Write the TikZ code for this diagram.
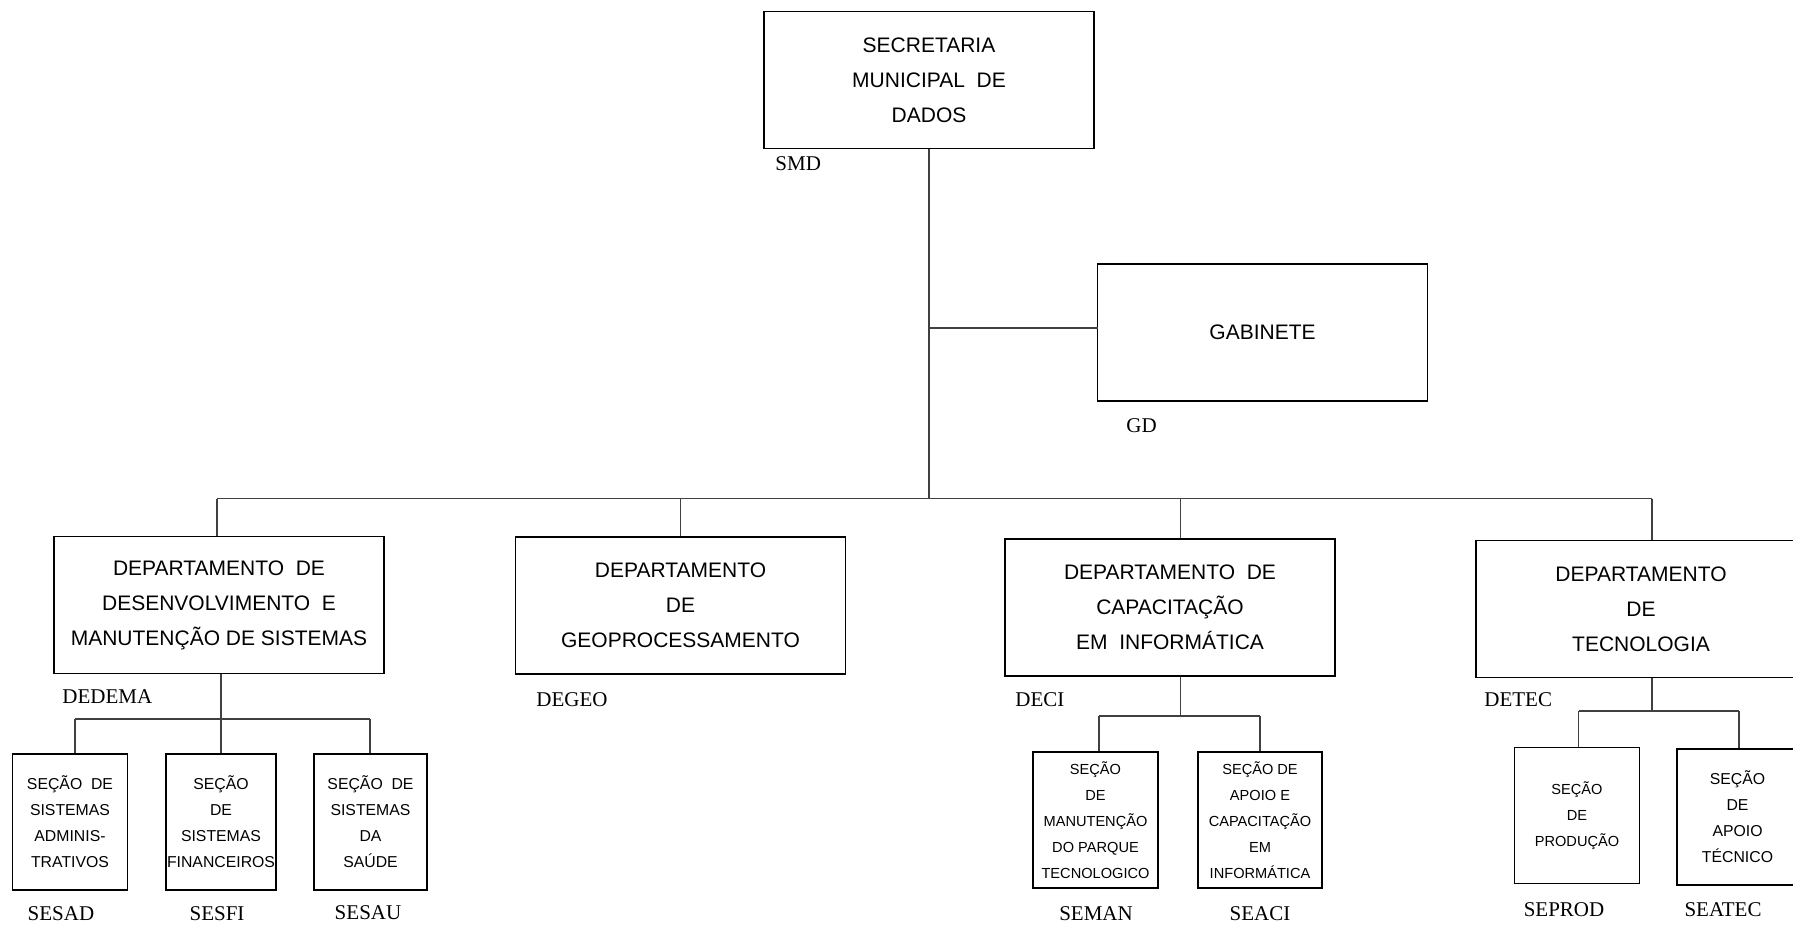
\documentclass[tikz,border=0pt]{standalone}
\usepackage{fontspec}
\setmainfont{Liberation Serif}
\setsansfont{Liberation Sans}
\begin{document}
\begin{tikzpicture}[x=0.5pt, y=-0.5pt,
    unitbox/.style={draw, line width=0.9pt, inner sep=0pt, align=center,
      minimum width=165pt, minimum height=68.5pt,
      font=\sffamily\fontsize{10.5}{17.5}\selectfont},
    secbox/.style={draw, line width=0.9pt, inner sep=0pt, align=center,
      minimum width=#1, minimum height=68pt,
      font=\sffamily\fontsize{7.9}{13}\selectfont},
    secboxn/.style={secbox=#1, font=\sffamily\fontsize{7.3}{13}\selectfont},
    sigla/.style={inner sep=0pt, font=\fontsize{10.5}{12}\selectfont},
    link/.style={line width=0.8pt, black!75}]
            \useasboundingbox (0,0) rectangle (1793,925);
            \clip (0,0) rectangle (1793,925);
            % secretaria e gabinete
            \node[unitbox] (smd) at (929,80) {SECRETARIA\\MUNICIPAL~ DE\\DADOS};
            \node[unitbox] (gd) at (1262.5,332.5) {GABINETE};
            % departamentos
            \node[unitbox] (dedema) at (219,605) {DEPARTAMENTO~ DE\\DESENVOLVIMENTO~ E\\MANUTENÇÃO DE SISTEMAS};
            \node[unitbox] (degeo) at (680.5,605.5) {DEPARTAMENTO\\DE\\GEOPROCESSAMENTO};
            \node[unitbox] (deci) at (1170,607.5) {DEPARTAMENTO~ DE\\CAPACITAÇÃO\\EM~ INFORMÁTICA};
            \node[unitbox] (detec) at (1641,609) {DEPARTAMENTO\\DE\\TECNOLOGIA};
            % secoes
            \node[secbox=57.5pt] (sesad) at (70,822) {SEÇÃO~ DE\\SISTEMAS\\ADMINIS-\\TRATIVOS};
            \node[secbox=55pt] (sesfi) at (221,822) {SEÇÃO\\DE\\SISTEMAS\\FINANCEIROS};
            \node[secbox=56.5pt] (sesau) at (370.5,822) {SEÇÃO~ DE\\SISTEMAS\\DA\\SAÚDE};
            \node[secboxn=62.5pt] (seman) at (1095.5,820) {SEÇÃO\\DE\\MANUTENÇÃO\\DO PARQUE\\TECNOLOGICO};
            \node[secboxn=62pt] (seaci) at (1260,820) {SEÇÃO DE\\APOIO E\\CAPACITAÇÃO\\EM\\INFORMÁTICA};
            \node[secboxn=62.5pt] (seprod) at (1577,815.5) {SEÇÃO\\DE\\PRODUÇÃO};
            \node[secbox=60.5pt] (seatec) at (1737.5,817) {SEÇÃO\\DE\\APOIO\\TÉCNICO};
            % siglas
            \node[sigla, anchor=west] (lsmd) at (775,164) {SMD};
            \node[sigla, anchor=west] (lgd) at (1126,426) {GD};
            \node[sigla, anchor=west] (ldedema) at (62,697) {DEDEMA};
            \node[sigla, anchor=west] (ldegeo) at (536,700) {DEGEO};
            \node[sigla, anchor=west] (ldeci) at (1015,700) {DECI};
            \node[sigla, anchor=west] (ldetec) at (1484,700) {DETEC};
            \node[sigla] (lsesad) at (61,914) {SESAD};
            \node[sigla] (lsesfi) at (217,914) {SESFI};
            \node[sigla] (lsesau) at (368,913) {SESAU};
            \node[sigla] (lseman) at (1096,914) {SEMAN};
            \node[sigla] (lseaci) at (1260,914) {SEACI};
            \node[sigla] (lseprod) at (1564,910) {SEPROD};
            \node[sigla] (lseatec) at (1723,910) {SEATEC};
            % ligacoes
            \coordinate (busl) at (217,498.5);
            \coordinate (busr) at (1652,498.5);
            \coordinate (tdeci) at (1180.5,498.5);
            \coordinate (tgd) at (1098,328);
            \draw[link] (smd.south) -- (smd.south |- busl);
            \draw[link] (tgd) -- (tgd -| smd.south);
            \draw[link] (busl) -- (busr);
            \draw[link] (busl) -- (busl |- dedema.north);
            \draw[link] (degeo.north) -- (degeo.north |- busl);
            \draw[link] (tdeci) -- (tdeci |- deci.north);
            \draw[link] (busr) -- (busr |- detec.north);
            \coordinate (subad) at (75,718.7);
            \coordinate (subau) at (370,718.7);
            \draw[link] (sesfi.north) -- (sesfi.north |- dedema.south);
            \draw[link] (subad) -- (subau);
            \draw[link] (subad) -- (subad |- sesad.north);
            \draw[link] (subau) -- (subau |- sesau.north);
            \coordinate (subman) at (1099,715.7);
            \coordinate (subaci) at (1260,715.7);
            \draw[link] (deci.south -| tdeci) -- (subman -| tdeci);
            \draw[link] (subman) -- (subaci);
            \draw[link] (subman) -- (subman |- seman.north);
            \draw[link] (subaci) -- (seaci.north);
            \coordinate (subprod) at (1578.5,711);
            \coordinate (subatec) at (1739,711);
            \draw[link] (detec.south -| busr) -- (subprod -| busr);
            \draw[link] (subprod) -- (subatec);
            \draw[link] (subprod) -- (subprod |- seprod.north);
            \draw[link] (subatec) -- (subatec |- seatec.north);
\end{tikzpicture}
\end{document}
